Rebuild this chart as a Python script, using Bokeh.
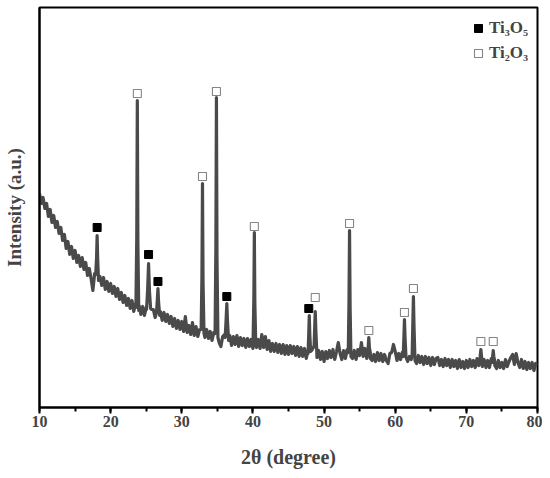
import numpy as np
from bokeh.plotting import figure
from bokeh.models import (Range1d, SingleIntervalTicker, FixedTicker,
                          Legend, LegendItem)
from bokeh.embed import file_html
from bokeh.resources import INLINE

# ---------------- data ----------------
# background trace, sampled every 0.25 degree from 10 to 80 (intensity, a.u.)
bg_start = 10.0
bg_step = 0.25
bg_intensity = [
    214, 204, 210, 199,   # 10
    204, 191, 198, 185,   # 11
    192, 180, 186, 174,   # 12
    180, 167, 173, 159,   # 13
    166, 153, 161, 149,   # 14
    157, 145, 152, 141,   # 15
    150, 138, 145, 132,   # 16
    139, 129, 117, 134,   # 17
    127, 129, 131, 122,   # 18
    130, 118, 126, 116,   # 19
    124, 114, 121, 111,   # 20
    119, 108, 115, 105,   # 21
    112, 102, 109, 99,    # 22
    107, 96, 104, 94,     # 23
    102, 93, 101, 92,     # 24
    100, 91, 96, 98,      # 25
    98, 90, 97, 94,       # 26
    96, 87, 95, 86,       # 27
    93, 84, 91, 81,       # 28
    89, 79, 87, 78,       # 29
    86, 76, 91, 75,       # 30
    82, 73, 85, 72,       # 31
    81, 71, 78, 70,       # 32
    74, 70, 78, 69,       # 33
    76, 67, 75, 71,       # 34
    70, 65, 61, 71,       # 35
    73, 68, 64, 72,       # 36
    62, 71, 63, 72,       # 37
    61, 70, 62, 69,       # 38
    60, 69, 61, 68,       # 39
    59, 64, 60, 68,       # 40
    59, 73, 60, 71,       # 41
    58, 67, 56, 64,       # 42
    56, 64, 55, 63,       # 43
    54, 63, 53, 62,       # 44
    53, 62, 54, 61,       # 45
    52, 61, 51, 60,       # 46
    51, 59, 49, 58,       # 47
    55, 57, 60, 55,       # 48
    50, 57, 48, 56,       # 49
    46, 56, 49, 57,       # 50
    50, 58, 48, 56,       # 51
    65, 54, 48, 57,       # 52
    49, 58, 52, 55,       # 53
    49, 57, 48, 58,       # 54
    52, 65, 51, 59,       # 55
    49, 51, 55, 47,       # 56
    53, 46, 55, 47,       # 57
    54, 46, 53, 47,       # 58
    44, 54, 55, 63,       # 59
    56, 47, 54, 48,       # 60
    55, 49, 49, 46,       # 61
    51, 48, 48, 51,       # 62
    44, 52, 45, 51,       # 63
    43, 51, 44, 50,       # 64
    42, 50, 43, 49,       # 65
    50, 42, 48, 41,       # 66
    49, 42, 48, 40,       # 67
    48, 41, 47, 39,       # 68
    48, 40, 46, 39,       # 69
    47, 40, 48, 41,       # 70
    47, 40, 49, 42,       # 71
    44, 41, 48, 40,       # 72
    47, 40, 49, 43,       # 73
    46, 39, 47, 40,       # 74
    45, 39, 48, 41,       # 75
    46, 50, 53, 43,       # 76
    54, 45, 40, 48,       # 77
    39, 46, 38, 45,       # 78
    39, 45, 37, 44,       # 79
    42,                   # 80
]

# diffraction peaks: 5 points each (left foot, left flank, top, right flank, right foot)
peak_two_theta = [
    17.90, 18.02, 18.10, 18.18, 18.30,
    23.55, 23.67, 23.75, 23.83, 23.95,
    25.05, 25.20, 25.33, 25.46, 25.62,
    26.45, 26.56, 26.65, 26.75, 26.90,
    32.72, 32.83, 32.91, 32.99, 33.12,
    34.68, 34.79, 34.87, 34.95, 35.08,
    36.10, 36.23, 36.33, 36.43, 36.58,
    40.02, 40.13, 40.20, 40.27, 40.40,
    47.75, 47.85, 47.92, 48.00, 48.12,
    48.60, 48.69, 48.76, 48.84, 48.98,
    53.40, 53.50, 53.58, 53.66, 53.78,
    56.12, 56.22, 56.29, 56.37, 56.50,
    61.12, 61.23, 61.30, 61.38, 61.52,
    62.38, 62.48, 62.56, 62.64, 62.78,
    71.88, 71.97, 72.04, 72.12, 72.25,
    73.62, 73.71, 73.78, 73.86, 74.00,
]
peak_intensity = [
    133, 150, 172, 148, 127,
    100, 170, 307, 165, 97,
    98, 118, 144, 116, 99,
    95, 108, 119, 104, 92,
    78, 130, 224, 125, 74,
    74, 160, 310, 150, 70,
    70, 88, 104, 86, 67,
    66, 110, 175, 105, 62,
    54, 75, 92, 72, 56,
    62, 82, 96, 78, 55,
    55, 105, 177, 100, 51,
    53, 63, 70, 60, 49,
    51, 72, 88, 70, 50,
    52, 85, 111, 82, 47,
    45, 53, 58, 52, 43,
    45, 52, 57, 51, 42,
]

# phase markers
ti3o5_two_theta = [18.10, 25.33, 26.65, 36.33, 47.85]
ti3o5_marker_y = [180, 153, 126, 111, 99]
ti2o3_two_theta = [23.75, 32.91, 34.87, 40.20, 48.76, 53.58, 56.29, 61.30, 62.56, 72.04, 73.78]
ti2o3_marker_y = [314, 231, 316, 181, 110, 184, 77, 95, 119, 66, 66]

x_ticks_interval = 10

# ---------------- assemble trace ----------------
bg_x = bg_start + bg_step * np.arange(len(bg_intensity))
bg_y = np.array(bg_intensity, dtype=float)
mask = np.ones(len(bg_x), dtype=bool)
for k in range(0, len(peak_two_theta), 5):
    lo, hi = peak_two_theta[k], peak_two_theta[k + 4]
    mask &= ~((bg_x > lo) & (bg_x < hi))
xs = np.concatenate([bg_x[mask], np.array(peak_two_theta)])
ys = np.concatenate([bg_y[mask], np.array(peak_intensity, dtype=float)])
order = np.argsort(xs, kind="stable")
xs, ys = xs[order], ys[order]

FONT = "Liberation Serif"

p = figure(width=542, height=470, output_backend="svg", toolbar_location=None,
           x_range=Range1d(10, 80), y_range=Range1d(0, 400),
           min_border_left=38, min_border_right=5, min_border_top=7, min_border_bottom=63)
p.grid.visible = False
p.background_fill_color = "white"
p.border_fill_color = "white"
p.outline_line_color = "black"
p.outline_line_width = 2

p.line(xs, ys, line_color="#4a4a4a", line_width=3.2, line_join="round")

r1 = p.scatter(ti3o5_two_theta, ti3o5_marker_y, marker="square", size=8,
               fill_color="black", line_color="black", line_width=1)
r2 = p.scatter(ti2o3_two_theta, ti2o3_marker_y, marker="square", size=8,
               fill_color="white", line_color="#858585", line_width=1.1)

# x axis
xa = p.xaxis[0]
xa.ticker = SingleIntervalTicker(interval=x_ticks_interval, num_minor_ticks=2)
xa.axis_label = "2θ (degree)"
xa.axis_label_text_font = FONT
xa.axis_label_text_font_style = "bold"
xa.axis_label_text_font_size = "20px"
xa.axis_label_standoff = 16
xa.major_label_text_font = FONT
xa.major_label_text_font_style = "bold"
xa.major_label_text_font_size = "16px"
xa.major_label_standoff = 2
xa.axis_line_width = 2
xa.major_tick_line_width = 2
xa.minor_tick_line_width = 2
xa.major_tick_in = 0
xa.major_tick_out = 6
xa.minor_tick_in = 0
xa.minor_tick_out = 4

# y axis
ya = p.yaxis[0]
ya.ticker = FixedTicker(ticks=[])
ya.axis_label = "Intensity (a.u.)"
ya.axis_label_text_font = FONT
ya.axis_label_text_font_style = "bold"
ya.axis_label_text_font_size = "19px"
ya.axis_label_standoff = 15
ya.axis_line_width = 2
ya.major_tick_out = 0
ya.major_tick_in = 0
ya.minor_tick_out = 0
ya.minor_tick_in = 0
ya.major_label_text_font_size = "0px"

legend = Legend(items=[LegendItem(label="Ti₃O₅", renderers=[r1]),
                       LegendItem(label="Ti₂O₃", renderers=[r2])],
                location=(429, 344), margin=0, padding=5, spacing=5,
                glyph_width=20, glyph_height=20, label_standoff=1,
                label_text_font=FONT, label_text_font_style="bold",
                label_text_font_size="17px",
                border_line_color=None, background_fill_alpha=0)
p.add_layout(legend)

open("out.html", "w").write(file_html(p, INLINE))
